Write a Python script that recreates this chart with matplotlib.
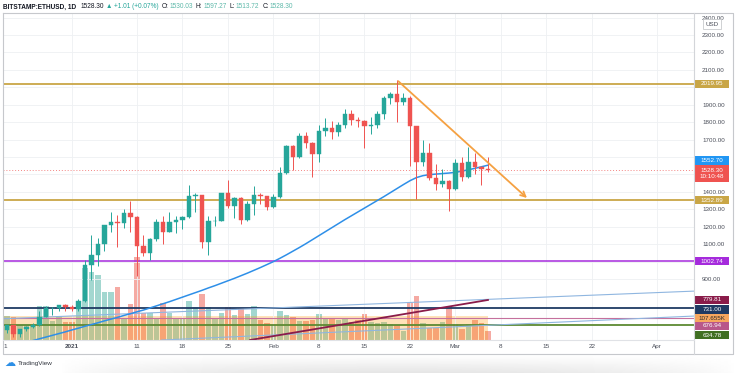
import numpy as np
import matplotlib.pyplot as plt
from matplotlib.patches import Rectangle
from matplotlib.lines import Line2D
from matplotlib.transforms import IdentityTransform, Bbox

plt.rcParams['font.family'] = ['Liberation Sans', 'DejaVu Sans']

# ETHUSD daily bars, index 0 = 2020-12-21 ... index 75 = 2021-03-06
opens = [638, 610, 635, 584, 612, 626, 636, 684, 731, 732,
         751, 737, 730, 775, 978, 1040, 1100, 1208, 1225, 1224,
         1281, 1256, 1088, 1050, 1130, 1227, 1170, 1229, 1240, 1256,
         1375, 1383, 1110, 1233, 1234, 1392, 1320, 1362, 1240, 1330,
         1382, 1378, 1313, 1370, 1510, 1662, 1598, 1720, 1678, 1615,
         1750, 1768, 1742, 1785, 1845, 1815, 1805, 1780, 1782, 1848,
         1938, 1960, 1918, 1936, 1780, 1572, 1625, 1480, 1447, 1460,
         1418, 1566, 1488, 1572, 1540, 1530.03]
highs = [649, 639, 637, 614, 630, 647, 719, 745, 738, 753,
         754, 749, 787, 1011, 1155, 1133, 1210, 1282, 1265, 1300,
         1348, 1261, 1150, 1136, 1244, 1260, 1286, 1262, 1263, 1440,
         1395, 1384, 1262, 1260, 1394, 1468, 1370, 1372, 1347, 1435,
         1391, 1379, 1390, 1540, 1670, 1670, 1740, 1741, 1685, 1781,
         1825, 1805, 1800, 1875, 1870, 1830, 1812, 1830, 1865, 1950,
         1975, 2040, 1970, 1950, 1780, 1700, 1680, 1560, 1530, 1470,
         1590, 1600, 1658, 1625, 1547, 1597.27]
lows = [596, 590, 565, 568, 600, 617, 629, 683, 692, 718,
        714, 715, 715, 769, 896, 977, 1063, 1167, 1085, 1191,
        1172, 918, 1033, 1010, 1120, 1102, 1169, 1165, 1187, 1250,
        1283, 1080, 1040, 1202, 1232, 1310, 1250, 1215, 1230, 1270,
        1333, 1298, 1307, 1364, 1500, 1528, 1596, 1650, 1485, 1570,
        1720, 1701, 1720, 1767, 1785, 1770, 1650, 1730, 1765, 1820,
        1905, 1800, 1900, 1550, 1360, 1550, 1470, 1410, 1430, 1293,
        1410, 1465, 1480, 1500, 1440, 1513.72]
closes = [610, 635, 584, 612, 626, 636, 684, 731, 732, 751,
          737, 730, 775, 978, 1040, 1100, 1208, 1225, 1224, 1281,
          1256, 1088, 1050, 1130, 1227, 1170, 1229, 1240, 1256, 1375,
          1383, 1110, 1233, 1234, 1392, 1320, 1362, 1240, 1330, 1382,
          1378, 1313, 1370, 1510, 1662, 1598, 1720, 1678, 1615, 1750,
          1768, 1742, 1785, 1845, 1815, 1805, 1780, 1782, 1848, 1938,
          1960, 1918, 1936, 1780, 1572, 1625, 1480, 1447, 1460, 1418,
          1566, 1488, 1572, 1540, 1530.03, 1528.30]
volumes_k = [137, 118, 113, 74, 74, 74, 167, 167, 93, 118,
             88, 88, 162, 353, 333, 318, 235, 235, 260, 108,
             176, 407, 132, 132, 108, 181, 132, 108, 108, 191,
             162, 225, 162, 108, 132, 162, 123, 157, 127, 167,
             98, 83, 74, 142, 123, 113, 93, 93, 98, 127,
             108, 108, 98, 108, 88, 98, 127, 88, 83, 88,
             78, 74, 44, 181, 216, 83, 59, 59, 88, 162,
             78, 54, 78, 98, 83, 44]
ma50 = [500, 509, 518, 528, 537, 547, 557, 567, 577, 587,
        597, 608, 618, 629, 639, 649, 660, 670, 680, 691,
        701, 712, 722, 734, 746, 758, 770, 783, 796, 809,
        822, 835, 849, 862, 876, 890, 904, 919, 934, 950,
        966, 983, 1000, 1019, 1039, 1060, 1081, 1103, 1126, 1149,
        1172, 1195, 1218, 1241, 1263, 1285, 1307, 1329, 1351, 1373,
        1396, 1419, 1442, 1464, 1482, 1493, 1499, 1502, 1505, 1508,
        1512, 1519, 1527, 1535, 1544, 1553]

# x axis: day index of each date label
tick_days = [11, 21, 28, 35, 42, 49, 56, 63, 70, 77, 84, 91, 101]
tick_labels = ['2021', '11', '18', '25', 'Feb', '8', '15', '22', 'Mar', '8', '15', '22', 'Apr']
# price scale; labels hidden under the coloured tags are left blank
price_ticks = list(range(900, 2401, 100))
hidden_ticks = [1000, 1500, 1600, 2000]

# horizontal levels and drawn trend lines
resist, support, purple_lvl = 2019.95, 1352.89, 1002.74
navy_lvl, pink_lvl, green_lvl = 731.00, 676.94, 634.78
arrow_from, arrow_to = (61.2, 2035), (81, 1365)
blue_a_d, blue_a_p = [-1, 107], [670, 831]
blue_b_d, blue_b_p = [24.8, 107], [550, 688]
maroon_d, maroon_p = [38.4, 75], [550, 779.81]
vol_box_k = 118

W, H = 736, 373
fig = plt.figure(figsize=(7.36, 3.73), dpi=100, facecolor='white')


def rect(x0, y0, x1, y1):
    return [x0 / W, 1 - y1 / H, (x1 - x0) / W, (y1 - y0) / H]


# soft shadow under the chart card
sh = fig.add_axes(rect(60, 355, 736, 373))
gy = np.linspace(0, 1, 20)[:, None]
gx = np.sin(np.linspace(0, np.pi, 200))[None, :] ** 0.6
sh.imshow(1 - 0.10 * gy * gx, cmap='gray', vmin=0, vmax=1, aspect='auto', interpolation='bilinear')
sh.axis('off')

ax = fig.add_axes(rect(3, 13, 694, 340))
vax = ax.twinx()
ax.set_zorder(vax.get_zorder() + 1)
ax.patch.set_visible(False)

days = np.arange(len(closes))
o, hi, lo, c = map(np.array, (opens, highs, lows, closes))
up = c >= o
col = np.where(up, '#26a69a', '#ef5350')

# volume overlay
vcol = np.where(up, '#a3d7d0', '#f5aaa3')
vax.bar(days, volumes_k, width=0.82, color=vcol, zorder=2)
vax.add_patch(Rectangle((-2, 0), 77.05, vol_box_k, fc='#ff9800', alpha=0.28, ec='none', zorder=3))
vax.set_ylim(0, 1602)
vax.set_yticks([])
for s in vax.spines.values():
    s.set_visible(False)

ax.set_xlim(0.385, 106.7)
ax.set_ylim(550.1, 2426.2)
ax.set_yticks(price_ticks)
ax.set_yticklabels(['' if v in hidden_ticks else f'{v:.2f}' for v in price_ticks])
ax.yaxis.tick_right()
ax.tick_params(axis='y', length=0, pad=5.8, labelsize=4.5, labelcolor='#4a4e59')
ax.set_xticks(tick_days)
ax.set_xticklabels(tick_labels)
ax.tick_params(axis='x', length=0, pad=3, labelsize=4.6, labelcolor='#4a4e59')
ax.get_xticklabels()[0].set_fontweight('bold')
ax.grid(color='#eef0f3', lw=0.6)
ax.set_axisbelow(True)
for s in ax.spines.values():
    s.set_visible(False)

# levels
ax.axhline(resist, color='#c9a646', lw=1.3, zorder=2)
ax.axhline(support, color='#c9a646', lw=1.3, zorder=2)
ax.axhline(purple_lvl, color='#a52bdc', lw=1.1, zorder=2)
ax.axhline(navy_lvl, color='#1f3a63', lw=1.3, zorder=2)
ax.axhline(pink_lvl, color='#c5709d', lw=0.8, zorder=2)
ax.axhline(green_lvl, color='#5d8a33', lw=1.3, zorder=2)
ax.axhline(closes[-1], color='#ef5350', lw=0.7, ls=(0, (1, 2)), alpha=0.7, zorder=2)
ax.plot(blue_a_d, blue_a_p, color='#8fb6e0', lw=0.8, zorder=2)
ax.plot(blue_b_d, blue_b_p, color='#8fb6e0', lw=0.8, zorder=2)
ax.plot(maroon_d, maroon_p, color='#8a1c4a', lw=1.3, zorder=2)

ax.plot(days, ma50, color='#2e8fe8', lw=1.1, zorder=3)

# candles
ax.vlines(days, lo, hi, colors=col, lw=0.7, zorder=4)
ax.bar(days, c - o, bottom=o, width=0.64, color=col, ec=col, lw=0.3, zorder=5)

ax.annotate('', xy=arrow_to, xytext=arrow_from,
            arrowprops=dict(arrowstyle='->', color='#f5a142', lw=1.3,
                            mutation_scale=9, shrinkA=0, shrinkB=0), zorder=6)

# price tags on the right scale
ident = IdentityTransform()
clip = Bbox([[694, H - 340], [W, H - 13]])


def tag(axis, value, text, bg, fg='white', shift=0, hgt=8.5):
    yd = axis.transData.transform((0, value))[1] - shift
    r = Rectangle((695, yd - hgt / 2), 34, hgt, transform=ident, fc=bg, ec='none', zorder=5)
    fig.add_artist(r)
    r.set_clip_box(clip)
    t = fig.text(712, yd, text, transform=ident, ha='center', va='center', fontsize=4.5,
                 color=fg, zorder=6, linespacing=1.25)
    t.set_clip_box(clip)
    t.set_clip_on(True)


tag(ax, resist, '2019.95', '#c9a646')
tag(ax, 1552.70, '1552.70', '#2196f3', shift=-4.6)
tag(ax, closes[-1], '1528.30\n10:10:48', '#ef5350', shift=4, hgt=17)
tag(ax, support, '1352.89', '#c9a646')
tag(ax, purple_lvl, '1002.74', '#a52bdc')
tag(ax, 779.81, '779.81', '#8a1c4a')
tag(ax, navy_lvl, '731.00', '#1f3a63', shift=1)
tag(vax, 107.655, '107.655K', '#f7a75e', fg='#2a2a2a')
tag(ax, pink_lvl, '676.94', '#b8578a', shift=8)
tag(ax, green_lvl, '634.78', '#3f6f22', shift=10)

# USD unit box
fig.text(712, H - 24, 'USD', transform=ident, ha='center', va='center', fontsize=4.5,
         color='#4a4e59', zorder=7,
         bbox=dict(boxstyle='square,pad=0.35', fc='white', ec='#c8cacc', lw=0.6))


# frame and separators
def pline(xs, ys, color='#d3d5d9', lw=0.8):
    fig.add_artist(Line2D(xs, [H - y for y in ys], transform=ident, color=color, lw=lw, zorder=8))


pline([3, 733, 733, 3, 3], [13, 13, 354, 354, 13], color='#c6c8cc')
pline([694, 694], [13, 354])
pline([3, 694], [340, 340], color='#e0e2e6')

fig.text(5, H - 346, '1', transform=ident, ha='center', va='center', fontsize=4.6, color='#4a4e59')

# header, laid out piece by piece
renderer = fig.canvas.get_renderer()
hy = H - 7
parts = [('BITSTAMP:ETHUSD, 1D', '#131722', 'bold', 4), ('1528.30', '#131722', 'normal', 2),
         ('▲', '#26a69a', 'normal', 2), ('+1.01 (+0.07%)', '#26a69a', 'normal', 3),
         ('O:', '#131722', 'normal', 1), ('1530.03', '#5cb8a9', 'normal', 3),
         ('H:', '#131722', 'normal', 1), ('1597.27', '#5cb8a9', 'normal', 3),
         ('L:', '#131722', 'normal', 1), ('1513.72', '#5cb8a9', 'normal', 3),
         ('C:', '#131722', 'normal', 1), ('1528.30', '#5cb8a9', 'normal', 3)]
x = 3
for s, colr, wgt, gap in parts:
    t = fig.text(x, hy, s, transform=ident, ha='left', va='center', fontsize=4.7,
                 color=colr, fontweight=wgt)
    x = t.get_window_extent(renderer).x1 + gap

# TradingView mark
fig.text(4, H - 363, '☁', transform=ident, ha='left', va='center', fontsize=8, color='#2d8fe6',
         family='DejaVu Sans')
fig.text(18, H - 363, 'TradingView', transform=ident, ha='left', va='center', fontsize=4.6, color='#333740')

fig.savefig('out.png', dpi=100, facecolor='white')
